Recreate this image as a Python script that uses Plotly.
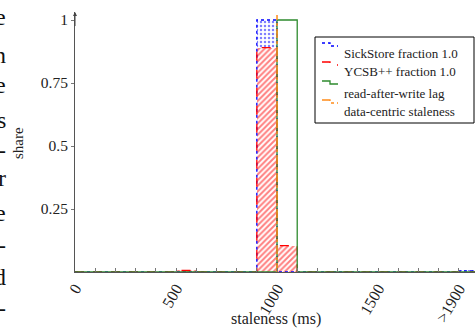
import plotly.graph_objects as go

# ---------------- data ----------------
bin_edges = list(range(0, 2001, 100))          # 20 bins, last one is ">1900"
bin_centers = [e + 50 for e in bin_edges[:-1]]
sickstore = [0, 0, 0, 0, 0, 0, 0, 0, 0, 1.0, 0, 0, 0, 0, 0, 0, 0, 0, 0, 0.004]
ycsb = [0, 0, 0, 0, 0, 0.006, 0, 0, 0, 0.89, 0.105, 0, 0, 0, 0, 0, 0, 0, 0, 0]
raw_lag = [0, 0, 0, 0, 0, 0, 0, 0, 0, 0, 1.0, 0, 0, 0, 0, 0, 0, 0, 0, 0]
data_centric_x = [1000]
data_centric_y = [1.0]
x_tickvals = [0, 500, 1000, 1500, 1900]
x_ticktext = ["0", "500", "1000", "1500", ">1900"]
y_tickvals = [0.25, 0.5, 0.75, 1]
y_ticktext = ["0.25", "0.5", "0.75", "1"]

BLUE = "#0000ff"
RED = "#ff0000"
GREEN = "#2e8b2e"
ORANGE = "#ff8c1a"
FONT = "Liberation Serif"

W, H = 475, 329
L, R, T, B = 75, 0, 12, 57
PW, PH = W - L - R, H - T - B
y_top = PH / 252.0


def px(x):
    return (x - L) / PW


def py(y):
    return (H - B - y) / PH


fig = go.Figure()

# pattern fills
fig.add_trace(go.Bar(
    x=bin_centers, y=sickstore, width=100,
    marker=dict(color="white", line=dict(width=0),
                pattern=dict(shape=".", fgcolor=BLUE, bgcolor="white", size=4, solidity=0.3)),
    showlegend=False, hoverinfo="skip"))
fig.add_trace(go.Bar(
    x=bin_centers, y=ycsb, width=100,
    marker=dict(color="white", line=dict(width=0),
                pattern=dict(shape="/", fgcolor=RED, bgcolor="white", size=4, solidity=0.5)),
    showlegend=False, hoverinfo="skip"))


def step(vals, color, dash, width=1.3):
    xs, ys = [bin_edges[0]], [0]
    for i, v in enumerate(vals):
        xs += [bin_edges[i], bin_edges[i + 1]]
        ys += [v, v]
    xs.append(bin_edges[-1])
    ys.append(0)
    fig.add_trace(go.Scatter(x=xs, y=ys, mode="lines",
                             line=dict(color=color, dash=dash, width=width),
                             showlegend=False, hoverinfo="skip", cliponaxis=True))


step(sickstore, BLUE, "dot")
step(ycsb, RED, "dash")
step(raw_lag, GREEN, "solid")
for xv, yv in zip(data_centric_x, data_centric_y):
    fig.add_trace(go.Scatter(x=[xv, xv], y=[0, yv + 0.02], mode="lines",
                             line=dict(color=ORANGE, dash="dashdot", width=1.5),
                             showlegend=False, hoverinfo="skip"))

fig.update_layout(
    width=W, height=H,
    margin=dict(l=L, r=R, t=T, b=B),
    paper_bgcolor="white", plot_bgcolor="white",
    barmode="overlay", bargap=0,
    font=dict(family=FONT, size=14, color="#222"),
    showlegend=False,
)
fig.update_xaxes(
    range=[0, 1980], showgrid=False, zeroline=False,
    showline=True, linecolor="#555", linewidth=1,
    tickmode="array", tickvals=x_tickvals, ticktext=x_ticktext,
    ticks="inside", ticklen=4, tickcolor="#777", tickangle=-60,
    tickfont=dict(family=FONT, size=16, color="#222"),
    minor=dict(tick0=0, dtick=100, ticks="inside", ticklen=4, tickcolor="#777"),
)
fig.update_yaxes(
    range=[0, y_top], showgrid=False, zeroline=False,
    showline=True, linecolor="#555", linewidth=1,
    tickmode="array", tickvals=y_tickvals, ticktext=y_ticktext,
    ticks="outside", ticklen=3, tickcolor="#777",
    tickfont=dict(family=FONT, size=15.5, color="#222"),
)

ann = []
# axis arrow
ann.append(dict(x=0, y=y_top, ax=0, ay=0.97, xref="x", yref="y", axref="x", ayref="y",
                showarrow=True, arrowhead=2, arrowsize=0.8, arrowwidth=1, arrowcolor="#444", text=""))
# axis titles
ann.append(dict(x=px(276), y=py(319), xref="paper", yref="paper", text="staleness (ms)",
                showarrow=False, xanchor="center", yanchor="middle",
                font=dict(family=FONT, size=16, color="#222")))
ann.append(dict(x=px(18), y=py(143), xref="paper", yref="paper", text="share",
                showarrow=False, textangle=-90, xanchor="center", yanchor="middle",
                font=dict(family=FONT, size=15, color="#222")))

# legend (manual, pgfplots style)
shapes = [dict(type="rect", xref="paper", yref="paper",
               x0=px(315), x1=px(474), y0=py(123), y1=py(37),
               line=dict(color="black", width=1), fillcolor="white", layer="above")]
legend_items = [
    ("SickStore fraction 1.0", BLUE, "dot", 43, 53),
    ("YCSB++ fraction 1.0", RED, "dash", 62, 72),
    ("read-after-write lag", GREEN, "solid", 81, 93),
    ("data-centric staleness", ORANGE, "dashdot", 100, 111),
]
for label, col, dash, iy, ty in legend_items:
    path = "M {:.4f},{:.4f} L {:.4f},{:.4f} L {:.4f},{:.4f} L {:.4f},{:.4f}".format(
        px(322), py(iy), px(330), py(iy), px(330), py(iy + 3), px(338), py(iy + 3))
    shapes.append(dict(type="path", xref="paper", yref="paper", path=path,
                       line=dict(color=col, dash=dash, width=1.3), layer="above"))
    ann.append(dict(x=px(342), y=py(ty), xref="paper", yref="paper", text=label,
                    showarrow=False, xanchor="left", yanchor="middle",
                    font=dict(family=FONT, size=13, color="#222")))

# fragments of surrounding page text at the left edge
frag = [("e", 17), ("n", 55), ("e", 85), ("s", 120), ("-", 150), ("r", 178),
        ("e", 213), ("-", 245), ("d", 277), ("-", 308)]
for ch, yy in frag:
    ann.append(dict(x=px(8), y=py(yy), xref="paper", yref="paper", text=ch,
                    showarrow=False, xanchor="right", yanchor="middle",
                    font=dict(family=FONT, size=24, color="#111")))

fig.update_layout(annotations=ann, shapes=shapes)
fig.write_html("out.html", config={"displayModeBar": False},
               post_script="document.body.style.margin='0';document.body.style.overflow='hidden';")
